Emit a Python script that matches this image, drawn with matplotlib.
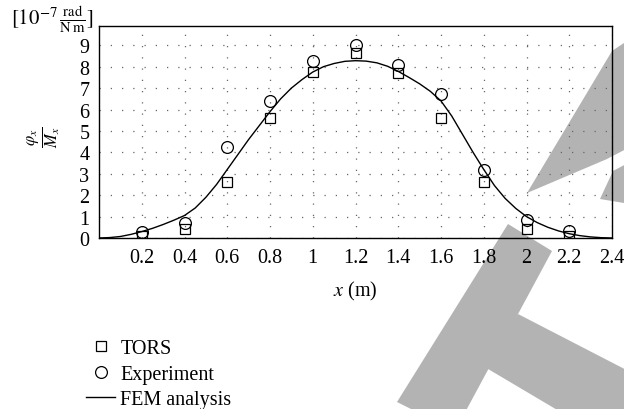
import matplotlib
matplotlib.use("Agg")
import matplotlib.pyplot as plt
from matplotlib.patches import Polygon
from matplotlib.lines import Line2D

plt.rcParams['font.family'] = ['Liberation Serif', 'DejaVu Serif']
plt.rcParams['mathtext.fontset'] = 'stix'

# measured points
x_pts = [0.2, 0.4, 0.6, 0.8, 1.0, 1.2, 1.4, 1.6, 1.8, 2.0, 2.2]
tors = [0.08, 0.4, 2.62, 5.6, 7.74, 8.64, 7.71, 5.6, 2.62, 0.42, 0.08]
experiment = [0.27, 0.69, 4.27, 6.42, 8.27, 9.02, 8.08, 6.73, 3.18, 0.84, 0.31]

# FEM curve
x_fem = [0.0, 0.05, 0.1, 0.15, 0.2, 0.25, 0.3, 0.35, 0.4, 0.45, 0.5, 0.55,
         0.6, 0.65, 0.7, 0.75, 0.8, 0.85, 0.9, 0.95, 1.0, 1.05, 1.1, 1.15,
         1.2, 1.25, 1.3, 1.35, 1.4, 1.45, 1.5, 1.55, 1.6, 1.65, 1.7, 1.75,
         1.8, 1.85, 1.9, 1.95, 2.0, 2.05, 2.1, 2.15, 2.2, 2.25, 2.3, 2.35, 2.4]
fem = [0.0, 0.02, 0.07, 0.17, 0.3, 0.45, 0.63, 0.83, 1.05, 1.4, 1.9, 2.5,
       3.2, 3.9, 4.6, 5.25, 5.9, 6.5, 7.0, 7.4, 7.75, 8.0, 8.15, 8.25,
       8.28, 8.26, 8.18, 8.02, 7.78, 7.5, 7.2, 6.85, 6.4, 5.7, 4.85, 4.0,
       3.2, 2.45, 1.85, 1.38, 1.0, 0.72, 0.5, 0.33, 0.2, 0.11, 0.05, 0.015, 0.0]

xticks = [0.2, 0.4, 0.6, 0.8, 1.0, 1.2, 1.4, 1.6, 1.8, 2.0, 2.2, 2.4]
xtick_labels = ['0.2', '0.4', '0.6', '0.8', '1', '1.2', '1.4', '1.6', '1.8', '2', '2.2', '2.4']
yticks = list(range(10))

W, H = 624, 410
fig = plt.figure(figsize=(W / 100, H / 100), dpi=100)

# grey watermark shapes behind the chart (pixel coords, y from top)
def px(pts):
    return [(a / W, 1 - b / H) for a, b in pts]

grey = '#b3b3b3'
shapes = [
    [(612, 52), (630, 40), (630, 148), (607, 160), (527, 194)],
    [(613, 172), (630, 163), (630, 205), (600, 200)],
    [(508, 225), (552, 252), (455, 432), (397, 403)],
    [(518, 315), (640, 378), (640, 460), (483, 367)],
]
for s in shapes:
    fig.patches.append(Polygon(px(s), closed=True, transform=fig.transFigure,
                               facecolor=grey, edgecolor='none', zorder=-5))

ax = fig.add_axes([99 / W, 1 - 239 / H, (612 - 99) / W, (239 - 27) / H])
ax.set_facecolor('none')

ax.plot(x_fem, fem, color='black', lw=1.0, zorder=3)
ax.plot(x_pts, tors, linestyle='none', marker='s', ms=6.5, mfc='none',
        mec='black', mew=0.9, zorder=4)
ax.plot(x_pts, experiment, linestyle='none', marker='o', ms=8.5, mfc='none',
        mec='black', mew=0.9, zorder=4)

ax.set_xlim(0, 2.4)
ax.set_ylim(0, 9.9)
ax.set_xticks(xticks)
ax.set_xticklabels(xtick_labels)
ax.set_yticks(yticks)
ax.tick_params(length=0, labelsize=14.5)
ax.tick_params(axis='x', pad=7)
ax.tick_params(axis='y', pad=7)
ax.grid(True, color='#666666', lw=0.9, linestyle=(0, (1, 8)))
for sp in ax.spines.values():
    sp.set_linewidth(1.0)

ax.set_xlabel(r'$x$ (m)', fontsize=14.5, labelpad=9)
fig.text(44 / W, 1 - 137 / H, r'$\frac{\varphi_x}{M_x}$', rotation=90,
         ha='center', va='center', fontsize=17)
fig.text(11 / W, 1 - 19 / H, r'$[10^{-7}\,\frac{\mathrm{rad}}{\mathrm{N\,m}}]$',
         ha='left', va='center', fontsize=15)

handles = [
    Line2D([], [], linestyle='none', marker='s', ms=6.5, mfc='none', mec='black', mew=0.9),
    Line2D([], [], linestyle='none', marker='o', ms=8.5, mfc='none', mec='black', mew=0.9),
    Line2D([], [], color='black', lw=1.0),
]
fig.legend(handles, ['TORS', 'Experiment', 'FEM analysis'], loc='upper left',
           bbox_to_anchor=(86 / W, 1 - 340 / H), frameon=False, fontsize=14.5,
           handlelength=1.45, handletextpad=0.25, labelspacing=0.32,
           borderpad=0, borderaxespad=0)

fig.savefig('out.png', dpi=100)
